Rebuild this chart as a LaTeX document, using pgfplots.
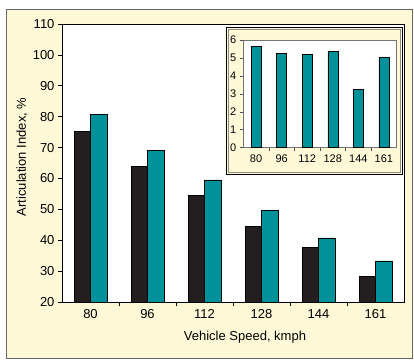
\documentclass[border=0pt]{standalone}
\usepackage{pgfplots}
\pgfplotsset{compat=1.18}
\usepackage{fontspec}
\setmainfont{Liberation Sans}
\definecolor{cream}{HTML}{FFF9D8}
\definecolor{tealbar}{HTML}{00929A}
\definecolor{barblack}{HTML}{231F20}
\begin{document}
\begin{tikzpicture}
\useasboundingbox (0pt,0pt) rectangle (414pt,360pt);
\filldraw[fill=cream, draw=black!60, line width=0.9pt] (6pt,2pt) rectangle (412pt,351pt);
\begin{axis}[
  at={(62pt,58pt)}, anchor=south west, scale only axis, width=342pt, height=278pt,
  xmin=-0.5, xmax=5.5, ymin=20, ymax=110,
  ytick={20,30,...,110},
  xtick={0,...,5}, xticklabels={80,96,112,128,144,161},
  axis background/.style={fill=white},
  axis line style={black, line width=0.8pt},
  ytick pos=left, xtick pos=bottom,
  tick align=outside,
  major tick length=4pt,
  tick style={black, line width=0.6pt},
  xtick style={draw=none},
  extra x ticks={0.5,1.5,2.5,3.5,4.5},
  extra x tick labels={},
  extra x tick style={xtick style={draw=black}},
  ybar=0pt, bar width=16.5pt,
  font=\fontsize{13}{15}\selectfont,
  /pgf/number format/assume math mode=true,
  xlabel={Vehicle Speed, kmph},
  ylabel={Articulation Index, \%},
  xlabel style={at={(axis description cs:0.535,-0.125)}, anchor=center},
  ylabel style={at={(axis description cs:-0.117,0.522)}, anchor=center},
]
\addplot[fill=barblack, draw=black, line width=0.5pt] coordinates {(0,75.3) (1,63.8) (2,54.4) (3,44.4) (4,37.6) (5,28.2)};
\addplot[fill=tealbar, draw=black, line width=0.5pt] coordinates {(0,80.8) (1,69.1) (2,59.5) (3,49.7) (4,40.8) (5,33.3)};
\end{axis}
\filldraw[fill=cream, draw=black, line width=0.8pt] (226.5pt,185.7pt) rectangle (402pt,332.3pt);
\draw[black!45, line width=0.6pt] (228.5pt,187.7pt) rectangle (400pt,330.3pt);
\begin{axis}[
  at={(243.3pt,212.3pt)}, anchor=south west, scale only axis, width=153.4pt, height=107.7pt,
  xmin=-0.5, xmax=5.5, ymin=0, ymax=6,
  ytick={0,1,...,6},
  xtick={0,...,5}, xticklabels={80,96,112,128,144,161},
  axis background/.style={fill=white},
  axis line style={black!55, line width=0.7pt},
  ytick pos=left, xtick pos=bottom,
  tick align=outside,
  major tick length=3.5pt,
  tick style={black!70, line width=0.6pt},
  xtick style={draw=none},
  extra x ticks={0.5,1.5,2.5,3.5,4.5},
  extra x tick labels={},
  extra x tick style={xtick style={draw=black!70}},
  ybar, bar width=10pt,
  font=\fontsize{11}{13}\selectfont,
  /pgf/number format/assume math mode=true,
]
\addplot[fill=tealbar, draw=black, line width=0.5pt] coordinates {(0,5.65) (1,5.24) (2,5.2) (3,5.38) (4,3.25) (5,5.03)};
\end{axis}
\end{tikzpicture}
\end{document}
